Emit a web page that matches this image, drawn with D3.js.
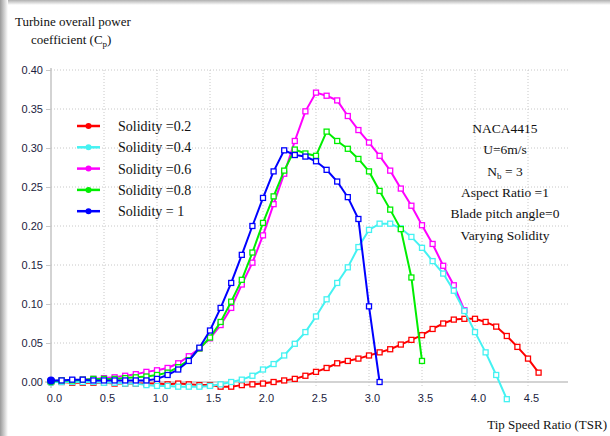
<!DOCTYPE html>
<html>
<head>
<meta charset="utf-8">
<script src="https://cdn.jsdelivr.net/npm/d3@7"></script>
<style>
  body { margin: 0; background: #fff; }
  svg { display: block; }
</style>
</head>
<body>
<div id="chart"></div>
<script>
// tip speed ratio steps, shared by all series
const tsr = [0.0, 0.1, 0.2, 0.3, 0.4, 0.5, 0.6, 0.7, 0.8, 0.9,
  1.0, 1.1, 1.2, 1.3, 1.4, 1.5, 1.6, 1.7, 1.8, 1.9,
  2.0, 2.1, 2.2, 2.3, 2.4, 2.5, 2.6, 2.7, 2.8, 2.9,
  3.0, 3.1, 3.2, 3.3, 3.4, 3.5, 3.6, 3.7, 3.8, 3.9,
  4.0, 4.1, 4.2, 4.3, 4.4, 4.5, 4.6];

const cpSol02 = [0.000, 0.000, -0.001, -0.001, -0.001, -0.001, -0.002, -0.002, -0.002, -0.002,
  -0.002, -0.003, -0.002, -0.003, -0.004, -0.004, -0.006, -0.006, -0.004, -0.003,
  -0.002, 0.000, 0.002, 0.004, 0.008, 0.013, 0.018, 0.024, 0.027, 0.030,
  0.034, 0.038, 0.042, 0.048, 0.054, 0.060, 0.068, 0.075, 0.080, 0.081,
  0.081, 0.077, 0.071, 0.059, 0.045, 0.030, 0.012];

const cpSol04 = [0.000, 0.000, 0.000, 0.000, 0.000, -0.001, -0.001, -0.002, -0.002, -0.004,
  -0.005, -0.005, -0.006, -0.006, -0.006, -0.005, -0.003, 0.000, 0.003, 0.008,
  0.016, 0.023, 0.034, 0.049, 0.064, 0.084, 0.106, 0.127, 0.147, 0.173,
  0.195, 0.203, 0.203, 0.197, 0.186, 0.172, 0.155, 0.139, 0.117, 0.091,
  0.064, 0.038, 0.009, -0.022];

const cpSol06 = [0.001, 0.002, 0.002, 0.003, 0.004, 0.005, 0.006, 0.008, 0.010, 0.013,
  0.015, 0.018, 0.024, 0.033, 0.043, 0.056, 0.073, 0.095, 0.125, 0.153,
  0.188, 0.228, 0.267, 0.309, 0.347, 0.371, 0.367, 0.361, 0.341, 0.323,
  0.307, 0.290, 0.271, 0.248, 0.226, 0.201, 0.177, 0.149, 0.124, 0.092];

const cpSol08 = [0.001, 0.002, 0.002, 0.003, 0.004, 0.004, 0.004, 0.005, 0.006, 0.007,
  0.009, 0.012, 0.019, 0.028, 0.043, 0.057, 0.077, 0.103, 0.131, 0.166,
  0.204, 0.238, 0.271, 0.298, 0.293, 0.290, 0.321, 0.309, 0.299, 0.286,
  0.270, 0.245, 0.221, 0.196, 0.134, 0.027];

const cpSol10 = [0.002, 0.002, 0.003, 0.003, 0.002, 0.002, 0.002, 0.002, 0.002, 0.002,
  0.004, 0.009, 0.016, 0.027, 0.044, 0.066, 0.095, 0.127, 0.163, 0.200,
  0.236, 0.270, 0.297, 0.291, 0.289, 0.283, 0.272, 0.257, 0.237, 0.209,
  0.097, 0.000];

const seriesNames = ['Solidity =0.2', 'Solidity =0.4', 'Solidity =0.6', 'Solidity =0.8', 'Solidity = 1'];
const seriesColors = ['#ff0000', '#44f2f2', '#ff00ff', '#00ee00', '#0000ff'];
const seriesValues = [cpSol02, cpSol04, cpSol06, cpSol08, cpSol10];
const drawOrder = [0, 2, 1, 3, 4];

const xTicks = [0.0, 0.5, 1.0, 1.5, 2.0, 2.5, 3.0, 3.5, 4.0, 4.5];
const yTicks = [0.00, 0.05, 0.10, 0.15, 0.20, 0.25, 0.30, 0.35, 0.40];

const notes = ['NACA4415', 'U=6m/s', 'Nb', 'Aspect Ratio =1', 'Blade pitch angle=0', 'Varying Solidity'];

const W = 610, H = 436;
const svg = d3.select('#chart').append('svg')
  .attr('width', W)
  .attr('height', H);

// frame shadow on the left and top edges
const defs = svg.append('defs');
const gl = defs.append('linearGradient').attr('id', 'shL').attr('x1', 0).attr('x2', 1).attr('y1', 0).attr('y2', 0);
gl.append('stop').attr('offset', 0).attr('stop-color', '#9a9a9a');
gl.append('stop').attr('offset', 1).attr('stop-color', '#ffffff');
const gt = defs.append('linearGradient').attr('id', 'shT').attr('x1', 0).attr('x2', 0).attr('y1', 0).attr('y2', 1);
gt.append('stop').attr('offset', 0).attr('stop-color', '#b0b0b0');
gt.append('stop').attr('offset', 1).attr('stop-color', '#ffffff');
svg.append('rect').attr('x', 0).attr('y', 0).attr('width', W).attr('height', 5).attr('fill', 'url(#shT)');
svg.append('rect').attr('x', 0).attr('y', 0).attr('width', 8).attr('height', H).attr('fill', 'url(#shL)');

const x = d3.scaleLinear().domain([0, 4.5]).range([51, 528]);
const y = d3.scaleLinear().domain([0, 0.4]).range([382, 70]);
const xEnd = 568;

// grid
svg.append('g').selectAll('line')
  .data(yTicks.filter(d => d > 0))
  .join('line')
  .attr('x1', x(0)).attr('x2', xEnd)
  .attr('y1', d => y(d)).attr('y2', d => y(d))
  .attr('stroke', '#c8c8c8').attr('stroke-dasharray', '1,2');
svg.append('g').selectAll('line')
  .data(xTicks.filter(d => d > 0))
  .join('line')
  .attr('x1', d => x(d)).attr('x2', d => x(d))
  .attr('y1', y(0.4)).attr('y2', y(0) + 5)
  .attr('stroke', '#c8c8c8').attr('stroke-dasharray', '1,2');

// axes
const yAxis = svg.append('g')
  .attr('transform', `translate(${x(0)},0)`)
  .call(d3.axisLeft(y).tickValues(yTicks).tickFormat(d3.format('.2f')).tickSize(5).tickPadding(3));
const xAxis = svg.append('g')
  .attr('transform', `translate(0,${y(0)})`)
  .call(d3.axisBottom(x).tickValues(xTicks).tickFormat(d3.format('.1f')).tickSize(0).tickPadding(12));
[yAxis, xAxis].forEach(a => {
  a.select('.domain').remove();
  a.selectAll('.tick line').attr('stroke', '#c8c8c8');
  a.selectAll('.tick text')
    .attr('font-family', 'Liberation Sans, Arial, sans-serif')
    .attr('font-size', 11)
    .attr('fill', '#1c1c40');
});
xAxis.selectAll('.tick text').attr('dx', 3);
svg.append('line').attr('x1', x(0)).attr('x2', x(0)).attr('y1', y(0.4) - 2).attr('y2', y(0) + 6)
  .attr('stroke', '#c4c4c4').attr('stroke-width', 1.5);
svg.append('line').attr('x1', x(0) - 6).attr('x2', xEnd).attr('y1', y(0)).attr('y2', y(0))
  .attr('stroke', '#c4c4c4').attr('stroke-width', 1.5);

// series
const line = d3.line()
  .x(d => x(d[0]))
  .y(d => y(d[1]));

drawOrder.forEach(i => {
  const pts = seriesValues[i].map((v, k) => [tsr[k], v]);
  const g = svg.append('g');
  g.append('path')
    .datum(pts)
    .attr('fill', 'none')
    .attr('stroke', seriesColors[i])
    .attr('stroke-width', 2)
    .attr('d', line);
  g.selectAll('rect')
    .data(pts.slice(1))
    .join('rect')
    .attr('x', d => x(d[0]) - 2.5)
    .attr('y', d => y(d[1]) - 2.5)
    .attr('width', 5).attr('height', 5)
    .attr('fill', '#fff')
    .attr('stroke', seriesColors[i])
    .attr('stroke-width', 1.3);
  g.append('circle')
    .attr('cx', x(pts[0][0]))
    .attr('cy', y(pts[0][1]))
    .attr('r', 4)
    .attr('fill', seriesColors[i]);
});

// legend
const legend = svg.append('g');
seriesNames.forEach((name, i) => {
  const ly = 126 + i * 21.3;
  legend.append('line')
    .attr('x1', 77).attr('x2', 100).attr('y1', ly).attr('y2', ly)
    .attr('stroke', seriesColors[i]).attr('stroke-width', 2.5);
  legend.append('circle')
    .attr('cx', 88.5).attr('cy', ly).attr('r', 3)
    .attr('fill', seriesColors[i]);
  legend.append('text')
    .attr('x', 118).attr('y', ly + 5)
    .attr('font-family', 'Liberation Serif, Times New Roman, serif')
    .attr('font-size', 14)
    .attr('fill', '#111')
    .text(name);
});

// annotation block
const ann = svg.append('text')
  .attr('font-family', 'Liberation Serif, Times New Roman, serif')
  .attr('font-size', 13.5)
  .attr('fill', '#111')
  .attr('text-anchor', 'middle');
notes.forEach((t, i) => {
  const tt = ann.append('tspan').attr('x', 505).attr('y', 133 + i * 21.3);
  if (t === 'Nb') {
    tt.text('N');
    tt.append('tspan').attr('font-size', 9).attr('dy', 3).text('b');
    tt.append('tspan').attr('dy', -3).text(' = 3');
  } else {
    tt.text(t);
  }
});

// axis titles
const yt = svg.append('text')
  .attr('font-family', 'Liberation Serif, Times New Roman, serif')
  .attr('font-size', 13)
  .attr('fill', '#111');
yt.append('tspan').attr('x', 15).attr('y', 26).text('Turbine overall power');
const yt2 = yt.append('tspan').attr('x', 31).attr('y', 44).text('coefficient (C');
yt.append('tspan').attr('font-size', 9).attr('dy', 3).text('p');
yt.append('tspan').attr('dy', -3).text(')');

svg.append('text')
  .attr('x', 607).attr('y', 429)
  .attr('text-anchor', 'end')
  .attr('font-family', 'Liberation Serif, Times New Roman, serif')
  .attr('font-size', 13)
  .attr('fill', '#111')
  .text('Tip Speed Ratio (TSR)');
</script>
</body>
</html>
